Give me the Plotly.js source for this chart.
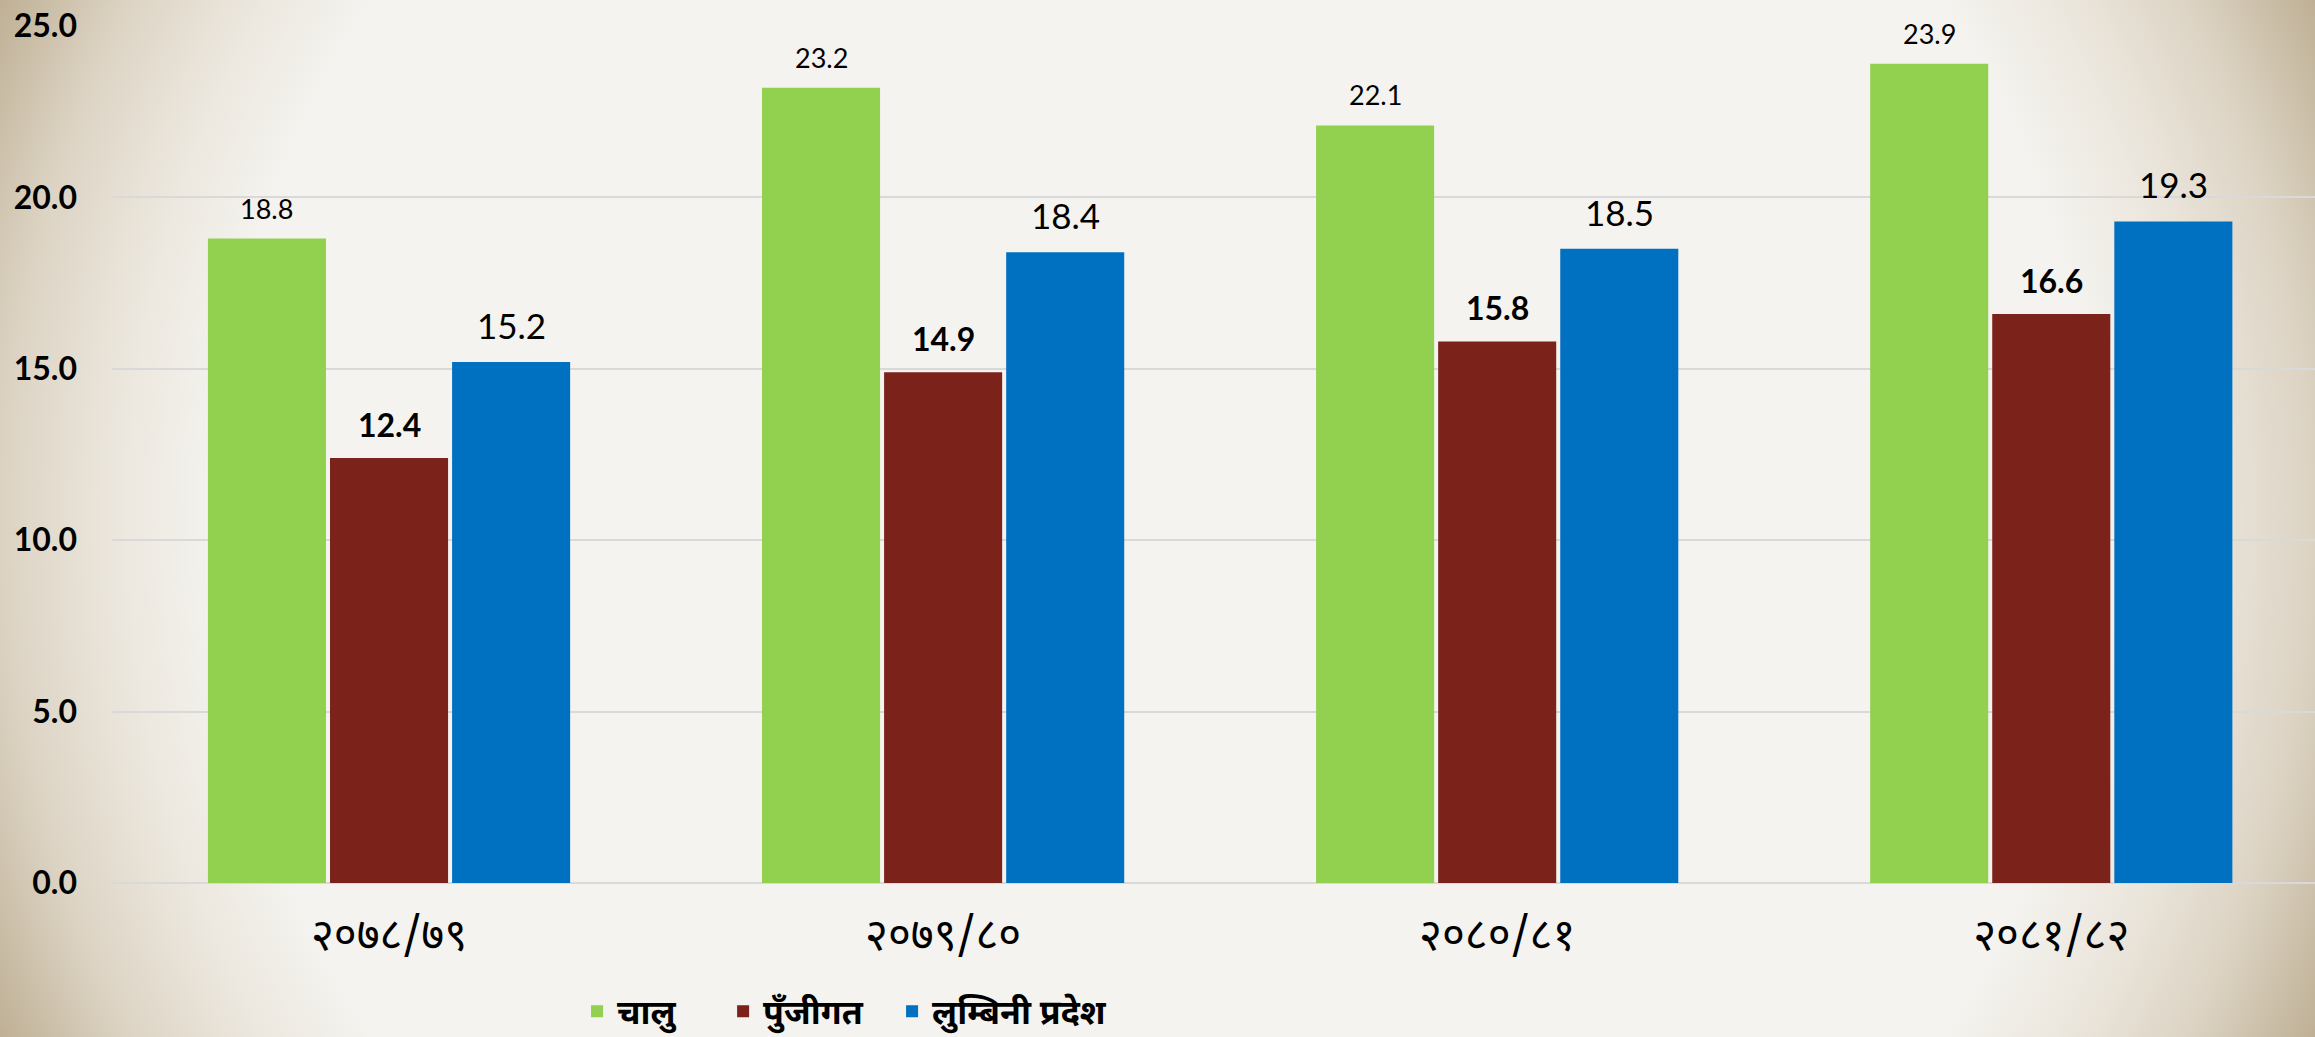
<!DOCTYPE html>
<html>
<head>
<meta charset="utf-8">
<script src="https://cdn.plot.ly/plotly-3.0.1.min.js"></script>
<style>
  html, body { margin: 0; padding: 0; width: 2315px; height: 1037px; overflow: hidden; }
  body {
    background: radial-gradient(circle farthest-corner at 50% 50%, #F4F3EF 0%, #F4F3EF 74%, #ECE7DE 82%, #DCD3C3 91%, #BFB095 100%);
  }
  #chart { width: 2315px; height: 1037px; }
</style>
</head>
<body>
<div id="chart"></div>
<script>
// ---- data ----
const categories = ["२०७८/७९", "२०७९/८०", "२०८०/८१", "२०८१/८२"];
const seriesNames = ["चालु", "पुँजीगत", "लुम्बिनी प्रदेश"];
const chaluValues = [18.8, 23.2, 22.1, 23.9];
const punjigatValues = [12.4, 14.9, 15.8, 16.6];
const lumbiniValues = [15.2, 18.4, 18.5, 19.3];
const yTickValues = [0, 5, 10, 15, 20, 25];

// ---- styles ----
const colors = ["#92D050", "#7B221B", "#0070C0"];
const labelFonts = [
  {family: "Lato, 'Noto Sans', sans-serif", size: 27, color: "#000", weight: 400},
  {family: "Lato, 'Noto Sans', sans-serif", size: 32, color: "#000", weight: 700},
  {family: "Lato, 'Noto Sans', sans-serif", size: 35, color: "#000", weight: 400}
];
const labelShift = [12, 12, 14];
const devFont = "'Noto Sans Devanagari', 'Noto Sans', 'Lohit Devanagari', sans-serif";
const legendIds = ["legend", "legend2", "legend3"];
const legendX = [0.2111, 0.2774, 0.3541];

const bargap = 0.339;
const allValues = [chaluValues, punjigatValues, lumbiniValues];
const idx = categories.map((c, i) => i);

const traces = allValues.map((vals, j) => ({
  type: "bar",
  name: seriesNames[j],
  x: idx,
  y: vals,
  legend: legendIds[j],
  marker: {color: colors[j], line: {width: 0}},
  hoverinfo: "skip"
}));

// value labels placed through the axes
const slot = (1 - bargap) / 3;
const annotations = [];
allValues.forEach((vals, j) => {
  vals.forEach((v, i) => {
    annotations.push({
      x: i + (j - 1) * slot,
      y: v,
      xref: "x", yref: "y",
      text: v.toFixed(1),
      showarrow: false,
      yanchor: "bottom",
      xanchor: "center",
      yshift: labelShift[j],
      font: labelFonts[j]
    });
  });
});

const layout = {
  width: 2315,
  height: 1037,
  paper_bgcolor: "rgba(0,0,0,0)",
  plot_bgcolor: "rgba(0,0,0,0)",
  margin: {l: 112, r: 0, t: 26, b: 154, autoexpand: false},
  barmode: "group",
  bargap: bargap,
  bargroupgap: 0.033,
  showlegend: true,
  xaxis: {
    type: "linear",
    range: [-0.5, 3.476],
    tickmode: "array",
    tickvals: idx,
    ticktext: categories,
    showgrid: false,
    zeroline: false,
    showline: false,
    ticks: "",
    ticklabelstandoff: 22,
    tickfont: {family: devFont, size: 44, color: "#000"}
  },
  yaxis: {
    range: [0, 25],
    tickmode: "array",
    tickvals: yTickValues,
    tickformat: ".1f",
    showgrid: true,
    gridcolor: "#D9D9D9",
    gridwidth: 2,
    zeroline: true,
    zerolinecolor: "#D9D9D9",
    zerolinewidth: 2,
    showline: false,
    ticks: "",
    ticklabelstandoff: 34,
    tickfont: {family: "Lato, 'Noto Sans', sans-serif", size: 32, color: "#000", weight: 700}
  },
  annotations: annotations
};

legendIds.forEach((id, j) => {
  layout[id] = {
    orientation: "h",
    x: legendX[j], xanchor: "left",
    y: -0.150, yanchor: "middle",
    font: {family: devFont, size: 34, color: "#000", weight: 700},
    bgcolor: "rgba(0,0,0,0)"
  };
});

Plotly.newPlot("chart", traces, layout, {displayModeBar: false, staticPlot: true});
</script>
</body>
</html>
